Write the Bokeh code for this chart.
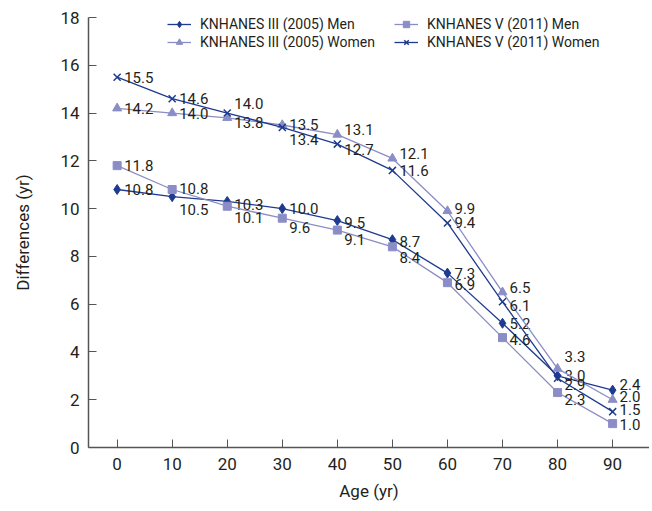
from bokeh.plotting import figure
from bokeh.models import ColumnDataSource, Range1d, Legend, LegendItem, FixedTicker
from bokeh.core.properties import value
from bokeh.embed import file_html
from bokeh.resources import INLINE

ages = [0, 10, 20, 30, 40, 50, 60, 70, 80, 90]
men_2005 = [10.8, 10.5, 10.3, 10.0, 9.5, 8.7, 7.3, 5.2, 3.0, 2.4]
women_2005 = [14.2, 14.0, 13.8, 13.5, 13.1, 12.1, 9.9, 6.5, 3.3, 2.0]
men_2011 = [11.8, 10.8, 10.1, 9.6, 9.1, 8.4, 6.9, 4.6, 2.3, 1.0]
women_2011 = [15.5, 14.6, 14.0, 13.4, 12.7, 11.6, 9.4, 6.1, 2.9, 1.5]
y_ticks = [0, 2, 4, 6, 8, 10, 12, 14, 16, 18]

# label vertical nudges in screen pixels (positive = down)
nudge_m05 = [0, 13, 3, 0, 2, 2, 0, 0, 0, -6]
nudge_w05 = [0, 0, 5, -1, -5, -5, -3, -5, -12, -3]
nudge_m11 = [0, -1, 11, 9, 9, 11, 2, 2, 7, 1]
nudge_w11 = [0, 0, -10, 12, 5, 0, 0, 4, 6, -2]

DARK = "#1f3b8f"
LIGHT = "#8b8dc6"
TXT = "#231f20"
AX = "#555555"
FONT = "Roboto"

p = figure(width=649, height=503, output_backend="svg", toolbar_location=None,
           x_range=Range1d(-5.2, 96.7), y_range=Range1d(0, 18),
           min_border_left=88, min_border_right=0, min_border_top=17, min_border_bottom=54)
p.outline_line_color = None
p.grid.visible = False
p.background_fill_color = "white"

for ax in (p.xaxis[0], p.yaxis[0]):
    ax.axis_line_color = AX
    ax.axis_line_width = 1.5
    ax.major_tick_line_color = AX
    ax.major_tick_in = 8
    ax.major_tick_out = 0
    ax.minor_tick_line_color = None
    ax.major_label_text_font = FONT
    ax.major_label_text_font_size = "17px"
    ax.major_label_text_color = TXT
    ax.axis_label_text_font = FONT
    ax.axis_label_text_font_size = "17px"
    ax.axis_label_text_font_style = "normal"
    ax.axis_label_text_color = TXT

p.xaxis.ticker = FixedTicker(ticks=ages)
p.yaxis.ticker = FixedTicker(ticks=y_ticks)
p.xaxis.axis_label = "Age (yr)"
p.yaxis.axis_label = "Differences (yr)"
p.xaxis.major_label_standoff = 10
p.yaxis.major_label_standoff = 9
p.xaxis.axis_label_standoff = 8
p.yaxis.axis_label_standoff = 24

series = [
    ("KNHANES III (2005) Men", men_2005, nudge_m05, DARK, "diamond", 10),
    ("KNHANES III (2005) Women", women_2005, nudge_w05, LIGHT, "triangle", 9),
    ("KNHANES V (2011) Men", men_2011, nudge_m11, LIGHT, "square", 8),
    ("KNHANES V (2011) Women", women_2011, nudge_w11, DARK, "x", 10),
]

items = {}
for name, vals, nudge, col, marker, size in series:
    src = ColumnDataSource(dict(x=ages, y=vals, lab=[f"{v:.1f}" for v in vals], dy=nudge))
    lr = p.line("x", "y", source=src, line_color=col, line_width=1.3)
    if marker == "x":
        sr = p.scatter("x", "y", source=src, marker=marker, size=size, line_color=col, line_width=1.5)
    else:
        sr = p.scatter("x", "y", source=src, marker=marker, size=size, fill_color=col, line_color=col)
    p.text("x", "y", text="lab", source=src, x_offset=7, y_offset="dy",
           text_baseline="middle", text_align="left", text_color=TXT,
           text_font=value(FONT), text_font_size="15px")
    items[name] = LegendItem(label=name, renderers=[lr, sr])

def mk_legend(names, x):
    leg = Legend(items=[items[n] for n in names], location=(x, 397),
                 padding=0, margin=0, spacing=2, glyph_width=24, glyph_height=16,
                 label_height=16, label_standoff=9, border_line_color=None,
                 background_fill_alpha=0, label_text_font=FONT,
                 label_text_font_size="14px", label_text_color=TXT)
    return leg

p.add_layout(mk_legend(["KNHANES III (2005) Men", "KNHANES III (2005) Women"], 79))
p.add_layout(mk_legend(["KNHANES V (2011) Men", "KNHANES V (2011) Women"], 306))

open("out.html", "w").write(file_html(p, INLINE))
